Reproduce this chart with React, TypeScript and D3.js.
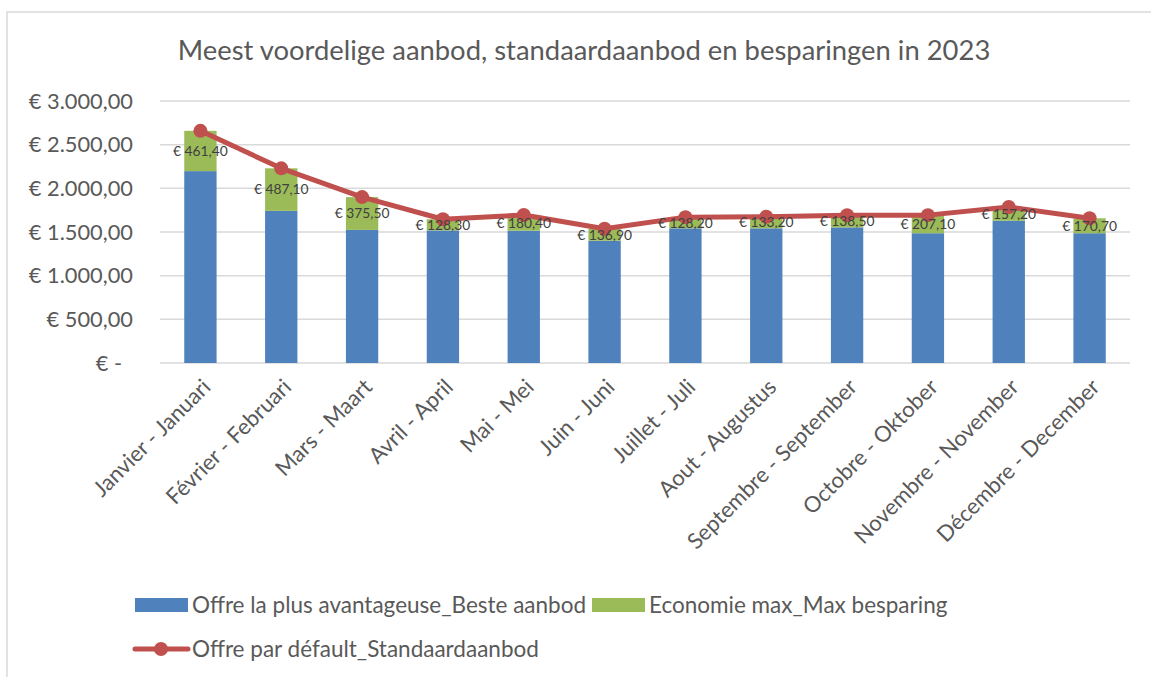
import React, { useRef, useEffect } from "react";
import * as d3 from "d3";

const months = [
  "Janvier - Januari",
  "Février - Februari",
  "Mars - Maart",
  "Avril - April",
  "Mai - Mei",
  "Juin - Juni",
  "Juillet - Juli",
  "Aout - Augustus",
  "Septembre - September",
  "Octobre - Oktober",
  "Novembre - November",
  "Décembre - December",
];

const besteAanbod = [2197, 1742, 1524, 1518, 1515, 1400, 1542, 1542, 1553, 1486, 1629, 1486];
const besparing = [461.4, 487.1, 375.5, 128.3, 180.4, 136.9, 128.2, 133.2, 138.5, 207.1, 157.2, 170.7];
const standaard = besteAanbod.map((v, i) => v + besparing[i]);

const yTicks = [0, 500, 1000, 1500, 2000, 2500, 3000];

const FONT = "Lato, 'Open Sans', sans-serif";
const TEXT = "#595959";

const euro = (v: number) =>
  v === 0
    ? "€ -"
    : "€ " +
      v.toLocaleString("de-DE", { minimumFractionDigits: 2, maximumFractionDigits: 2 });

const App = () => {
  const svgRef = useRef<SVGSVGElement>(null);

  useEffect(() => {
    const svg = d3.select(svgRef.current);
    svg.selectAll("*").remove();

    const width = 1151;
    const height = 677;
    const margin = { top: 101, right: 21, bottom: 314, left: 160 };

    // kader
    svg
      .append("rect")
      .attr("x", 7)
      .attr("y", 12)
      .attr("width", width + 20)
      .attr("height", height + 20)
      .attr("fill", "white")
      .attr("stroke", "#D9D9D9")
      .attr("stroke-width", 1.5);

    svg
      .append("text")
      .attr("x", 584)
      .attr("y", 60)
      .attr("text-anchor", "middle")
      .attr("font-family", FONT)
      .attr("font-size", 27.4)
      .attr("fill", TEXT)
      .text("Meest voordelige aanbod, standaardaanbod en besparingen in 2023");

    const x = d3
      .scaleBand()
      .domain(months)
      .range([margin.left, width - margin.right]);

    const y = d3
      .scaleLinear()
      .domain([0, 3000])
      .range([height - margin.bottom, margin.top]);

    // rasterlijnen
    svg
      .append("g")
      .selectAll("line")
      .data(yTicks)
      .join("line")
      .attr("x1", margin.left)
      .attr("x2", width - margin.right)
      .attr("y1", (d) => y(d))
      .attr("y2", (d) => y(d))
      .attr("stroke", "#D9D9D9")
      .attr("stroke-width", 1.5);

    svg
      .append("g")
      .selectAll("text")
      .data(yTicks)
      .join("text")
      .attr("x", (d) => (d === 0 ? 122 : 133))
      .attr("y", (d) => y(d))
      .attr("dy", "0.35em")
      .attr("text-anchor", "end")
      .attr("font-family", FONT)
      .attr("font-size", 21.8)
      .attr("fill", TEXT)
      .text((d) => euro(d));

    const barW = x.bandwidth() * 0.4;

    // staven
    svg
      .append("g")
      .selectAll("rect")
      .data(months)
      .join("rect")
      .attr("x", (d) => x(d)! + x.bandwidth() / 2 - barW / 2)
      .attr("width", barW)
      .attr("y", (d, i) => y(besteAanbod[i]))
      .attr("height", (d, i) => y(0) - y(besteAanbod[i]))
      .attr("fill", "#4F81BD");

    svg
      .append("g")
      .selectAll("rect")
      .data(months)
      .join("rect")
      .attr("x", (d) => x(d)! + x.bandwidth() / 2 - barW / 2)
      .attr("width", barW)
      .attr("y", (d, i) => y(standaard[i]))
      .attr("height", (d, i) => y(besteAanbod[i]) - y(standaard[i]))
      .attr("fill", "#9BBB59");

    // lijn
    const line = d3
      .line<number>()
      .x((d, i) => x(months[i])! + x.bandwidth() / 2)
      .y((d) => y(d));

    svg
      .append("path")
      .datum(standaard)
      .attr("fill", "none")
      .attr("stroke", "#C0504D")
      .attr("stroke-width", 5)
      .attr("stroke-linejoin", "round")
      .attr("d", line);

    svg
      .append("g")
      .selectAll("circle")
      .data(standaard)
      .join("circle")
      .attr("cx", (d, i) => x(months[i])! + x.bandwidth() / 2)
      .attr("cy", (d) => y(d))
      .attr("r", 7)
      .attr("fill", "#C0504D");

    // labels
    svg
      .append("g")
      .selectAll("text")
      .data(besparing)
      .join("text")
      .attr("x", (d, i) => x(months[i])! + x.bandwidth() / 2)
      .attr("y", (d, i) => y(besteAanbod[i] + d / 2))
      .attr("dy", "0.35em")
      .attr("text-anchor", "middle")
      .attr("font-family", FONT)
      .attr("font-size", 13.8)
      .attr("fill", "#404040")
      .text((d) => euro(d));

    // x-as labels
    svg
      .append("g")
      .selectAll("text")
      .data(months)
      .join("text")
      .attr(
        "transform",
        (d) => `translate(${x(d)! + x.bandwidth() / 2 + 6},${y(0) + 20}) rotate(-45)`
      )
      .attr("text-anchor", "end")
      .attr("dy", "0.35em")
      .attr("font-family", FONT)
      .attr("font-size", 22)
      .attr("fill", TEXT)
      .text((d) => d);

    // legenda
    const legend = svg.append("g").attr("font-family", FONT).attr("font-size", 22.5).attr("fill", TEXT);

    legend.append("rect").attr("x", 135).attr("y", 598).attr("width", 53).attr("height", 14).attr("fill", "#4F81BD");
    legend.append("text").attr("x", 192).attr("y", 605).attr("dy", "0.35em").text("Offre la plus avantageuse_Beste aanbod");

    legend.append("rect").attr("x", 592).attr("y", 598).attr("width", 53).attr("height", 14).attr("fill", "#9BBB59");
    legend.append("text").attr("x", 649).attr("y", 605).attr("dy", "0.35em").text("Economie max_Max besparing");

    legend
      .append("line")
      .attr("x1", 135)
      .attr("x2", 188)
      .attr("y1", 649)
      .attr("y2", 649)
      .attr("stroke", "#C0504D")
      .attr("stroke-width", 5)
      .attr("stroke-linecap", "round");
    legend.append("circle").attr("cx", 161).attr("cy", 649).attr("r", 7).attr("fill", "#C0504D");
    legend.append("text").attr("x", 192).attr("y", 649).attr("dy", "0.35em").text("Offre par défault_Standaardaanbod");
  }, []);

  return (
    <svg
      ref={svgRef}
      width={1151}
      height={677}
      style={{ position: "absolute", left: 0, top: 0, display: "block" }}
    ></svg>
  );
};

export default App;
